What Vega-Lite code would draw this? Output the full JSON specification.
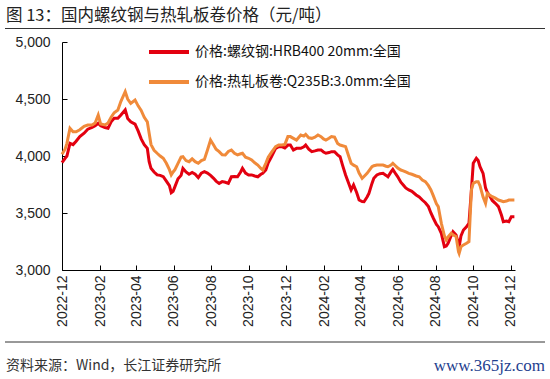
{
  "$schema": "https://vega.github.io/schema/vega-lite/v6.json",
  "width": 453,
  "height": 228,
  "autosize": "none",
  "padding": {"left": 62, "top": 42, "right": 35, "bottom": 109},
  "background": "white",
  "config": {"view": {"stroke": null}},
  "layer": [
    {
      "data": {"values": [
        {"d":"2022-12-01","r":3941,"o":4015},{"d":"2022-12-06","r":3980,"o":4060},{"d":"2022-12-09","r":4000,"o":4111},{"d":"2022-12-14","r":4111,"o":4243},{"d":"2022-12-19","r":4100,"o":4213},{"d":"2022-12-24","r":4130,"o":4213},{"d":"2022-12-30","r":4170,"o":4230},
        {"d":"2023-01-06","r":4200,"o":4260},{"d":"2023-01-12","r":4235,"o":4272},{"d":"2023-01-19","r":4250,"o":4272},{"d":"2023-01-24","r":4265,"o":4290},{"d":"2023-01-29","r":4287,"o":4360},
        {"d":"2023-02-02","r":4265,"o":4280},{"d":"2023-02-09","r":4250,"o":4272},{"d":"2023-02-14","r":4243,"o":4290},{"d":"2023-02-19","r":4300,"o":4340},{"d":"2023-02-24","r":4331,"o":4380},
        {"d":"2023-03-02","r":4331,"o":4404},{"d":"2023-03-07","r":4360,"o":4480},{"d":"2023-03-14","r":4404,"o":4564},{"d":"2023-03-18","r":4330,"o":4500},{"d":"2023-03-23","r":4300,"o":4462},{"d":"2023-03-30","r":4280,"o":4491},
        {"d":"2023-04-04","r":4220,"o":4440},{"d":"2023-04-09","r":4150,"o":4400},{"d":"2023-04-14","r":4100,"o":4340},{"d":"2023-04-19","r":4067,"o":4300},{"d":"2023-04-22","r":3950,"o":4200},{"d":"2023-04-25","r":3892,"o":4100},{"d":"2023-04-30","r":3860,"o":4050},
        {"d":"2023-05-05","r":3834,"o":4024},{"d":"2023-05-10","r":3830,"o":4000},{"d":"2023-05-15","r":3818,"o":3980},{"d":"2023-05-20","r":3780,"o":3936},{"d":"2023-05-25","r":3740,"o":3880},{"d":"2023-05-28","r":3678,"o":3834},{"d":"2023-05-31","r":3690,"o":3860},
        {"d":"2023-06-03","r":3731,"o":3880},{"d":"2023-06-08","r":3800,"o":3936},{"d":"2023-06-13","r":3830,"o":3990},{"d":"2023-06-16","r":3892,"o":3994},{"d":"2023-06-21","r":3860,"o":3960},{"d":"2023-06-26","r":3840,"o":3950},
        {"d":"2023-07-01","r":3855,"o":3975},{"d":"2023-07-06","r":3840,"o":3950},{"d":"2023-07-11","r":3810,"o":3936},{"d":"2023-07-16","r":3850,"o":3960},{"d":"2023-07-21","r":3862,"o":3970},{"d":"2023-07-26","r":3850,"o":4053},{"d":"2023-07-31","r":3830,"o":4140},
        {"d":"2023-08-05","r":3804,"o":4096},{"d":"2023-08-09","r":3780,"o":4060},{"d":"2023-08-14","r":3760,"o":4038},{"d":"2023-08-19","r":3775,"o":4010},{"d":"2023-08-24","r":3770,"o":4009},{"d":"2023-08-29","r":3760,"o":4040},
        {"d":"2023-09-03","r":3818,"o":4053},{"d":"2023-09-08","r":3820,"o":4024},{"d":"2023-09-13","r":3818,"o":4010},{"d":"2023-09-18","r":3860,"o":4020},{"d":"2023-09-21","r":3892,"o":4024},{"d":"2023-09-26","r":3850,"o":3990},
        {"d":"2023-10-01","r":3834,"o":3980},{"d":"2023-10-06","r":3834,"o":3965},{"d":"2023-10-11","r":3825,"o":3940},{"d":"2023-10-16","r":3818,"o":3921},{"d":"2023-10-21","r":3840,"o":3890},{"d":"2023-10-24","r":3848,"o":3877},{"d":"2023-10-29","r":3877,"o":3936},
        {"d":"2023-11-02","r":3940,"o":3990},{"d":"2023-11-07","r":3990,"o":4030},{"d":"2023-11-14","r":4067,"o":4082},{"d":"2023-11-19","r":4082,"o":4096},{"d":"2023-11-24","r":4082,"o":4096},{"d":"2023-11-29","r":4070,"o":4100},
        {"d":"2023-12-04","r":4096,"o":4170},{"d":"2023-12-08","r":4096,"o":4170},{"d":"2023-12-13","r":4053,"o":4155},{"d":"2023-12-18","r":4067,"o":4140},{"d":"2023-12-25","r":4067,"o":4184},{"d":"2023-12-30","r":4080,"o":4175},
        {"d":"2024-01-02","r":4096,"o":4190},{"d":"2024-01-07","r":4060,"o":4160},{"d":"2024-01-12","r":4038,"o":4155},{"d":"2024-01-17","r":4045,"o":4165},{"d":"2024-01-22","r":4053,"o":4184},{"d":"2024-01-27","r":4053,"o":4170},{"d":"2024-01-31","r":4035,"o":4150},
        {"d":"2024-02-04","r":4024,"o":4140},{"d":"2024-02-09","r":4030,"o":4155},{"d":"2024-02-13","r":4038,"o":4170},{"d":"2024-02-18","r":4038,"o":4165},{"d":"2024-02-23","r":4010,"o":4110},{"d":"2024-02-27","r":3994,"o":4096},
        {"d":"2024-03-02","r":3920,"o":4090},{"d":"2024-03-07","r":3834,"o":4082},{"d":"2024-03-12","r":3760,"o":4000},{"d":"2024-03-16","r":3702,"o":3936},{"d":"2024-03-20","r":3746,"o":3920},{"d":"2024-03-25","r":3680,"o":3906},{"d":"2024-03-29","r":3614,"o":3850},
        {"d":"2024-04-03","r":3600,"o":3804},{"d":"2024-04-06","r":3599,"o":3820},{"d":"2024-04-11","r":3640,"o":3848},{"d":"2024-04-14","r":3672,"o":3870},{"d":"2024-04-19","r":3760,"o":3906},{"d":"2024-04-22","r":3804,"o":3915},{"d":"2024-04-27","r":3834,"o":3921},
        {"d":"2024-05-02","r":3845,"o":3921},{"d":"2024-05-07","r":3848,"o":3921},{"d":"2024-05-12","r":3830,"o":3910},{"d":"2024-05-15","r":3818,"o":3906},{"d":"2024-05-20","r":3860,"o":3920},{"d":"2024-05-23","r":3883,"o":3936},{"d":"2024-05-28","r":3840,"o":3910},{"d":"2024-05-31","r":3818,"o":3895},
        {"d":"2024-06-05","r":3770,"o":3877},{"d":"2024-06-09","r":3746,"o":3870},{"d":"2024-06-13","r":3720,"o":3860},{"d":"2024-06-18","r":3702,"o":3848},{"d":"2024-06-23","r":3690,"o":3840},{"d":"2024-06-30","r":3658,"o":3825},
        {"d":"2024-07-05","r":3640,"o":3818},{"d":"2024-07-10","r":3614,"o":3790},{"d":"2024-07-15","r":3590,"o":3775},{"d":"2024-07-20","r":3556,"o":3740},{"d":"2024-07-24","r":3500,"o":3702},{"d":"2024-07-28","r":3454,"o":3650},
        {"d":"2024-08-02","r":3400,"o":3580},{"d":"2024-08-05","r":3380,"o":3556},{"d":"2024-08-10","r":3322,"o":3410},{"d":"2024-08-15","r":3204,"o":3300},{"d":"2024-08-18","r":3210,"o":3263},{"d":"2024-08-21","r":3234,"o":3290},{"d":"2024-08-26","r":3300,"o":3322},{"d":"2024-08-29","r":3336,"o":3310},
        {"d":"2024-09-03","r":3307,"o":3293},{"d":"2024-09-07","r":3230,"o":3160},{"d":"2024-09-08","r":3204,"o":3146},{"d":"2024-09-11","r":3300,"o":3204},{"d":"2024-09-15","r":3351,"o":3220},{"d":"2024-09-20","r":3380,"o":3234},{"d":"2024-09-24","r":3410,"o":3249},{"d":"2024-09-28","r":3702,"o":3702},
        {"d":"2024-10-01","r":3936,"o":3760},{"d":"2024-10-06","r":3980,"o":3775},{"d":"2024-10-09","r":3960,"o":3775},{"d":"2024-10-12","r":3906,"o":3740},{"d":"2024-10-17","r":3848,"o":3640},{"d":"2024-10-21","r":3720,"o":3585},{"d":"2024-10-24","r":3680,"o":3672},{"d":"2024-10-27","r":3658,"o":3660},
        {"d":"2024-11-01","r":3610,"o":3643},{"d":"2024-11-06","r":3585,"o":3630},{"d":"2024-11-11","r":3556,"o":3614},{"d":"2024-11-16","r":3480,"o":3605},{"d":"2024-11-19","r":3424,"o":3599},{"d":"2024-11-24","r":3430,"o":3605},{"d":"2024-11-28","r":3424,"o":3614},
        {"d":"2024-12-02","r":3468,"o":3614},{"d":"2024-12-07","r":3468,"o":3614}
      ]},
      "transform": [{"fold": ["r", "o"], "as": ["s", "v"]}],
      "mark": {"type": "line", "strokeWidth": 3, "interpolate": "linear"},
      "encoding": {
        "x": {
          "field": "d", "type": "temporal",
          "scale": {"type": "utc", "domain": [{"year": 2022, "month": 12, "date": 1, "utc": true}, {"year": 2024, "month": 12, "date": 8, "utc": true}], "nice": false},
          "axis": {
            "title": null, "grid": false, "format": "%Y-%m",
            "values": [
              {"year": 2022, "month": 12, "date": 1, "utc": true},
              {"year": 2023, "month": 2, "date": 1, "utc": true},
              {"year": 2023, "month": 4, "date": 1, "utc": true},
              {"year": 2023, "month": 6, "date": 1, "utc": true},
              {"year": 2023, "month": 8, "date": 1, "utc": true},
              {"year": 2023, "month": 10, "date": 1, "utc": true},
              {"year": 2023, "month": 12, "date": 1, "utc": true},
              {"year": 2024, "month": 2, "date": 1, "utc": true},
              {"year": 2024, "month": 4, "date": 1, "utc": true},
              {"year": 2024, "month": 6, "date": 1, "utc": true},
              {"year": 2024, "month": 8, "date": 1, "utc": true},
              {"year": 2024, "month": 10, "date": 1, "utc": true},
              {"year": 2024, "month": 12, "date": 1, "utc": true}
            ],
            "labelAngle": 270, "labelFont": "Liberation Sans", "labelFontSize": 14, "labelColor": "#222222",
            "domainColor": "#000000", "tickColor": "#000000", "tickSize": -5, "labelPadding": 10,
            "labelOverlap": false, "labelFlush": false
          }
        },
        "y": {
          "field": "v", "type": "quantitative",
          "scale": {"domain": [3000, 5000], "nice": false, "zero": false},
          "axis": {
            "title": null, "grid": false, "values": [3000, 3500, 4000, 4500, 5000], "format": ",.0f",
            "labelFont": "Liberation Sans", "labelFontSize": 14, "labelColor": "#222222",
            "domainColor": "#000000", "tickColor": "#000000", "tickSize": -5, "labelPadding": 17
          }
        },
        "color": {
          "field": "s", "type": "nominal",
          "scale": {"domain": ["r", "o"], "range": ["#E30010", "#F08A3A"]},
          "legend": {
            "title": null, "orient": "none", "legendX": 85, "legendY": -12, "direction": "vertical",
            "symbolType": "stroke", "symbolSize": 1600, "symbolStrokeWidth": 4,
            "labelFont": "Noto Sans CJK SC", "labelFontSize": 14, "labelColor": "#111111",
            "rowPadding": -2, "labelOffset": 4, "labelLimit": 0,
            "labelExpr": "datum.label == 'r' ? '价格:螺纹钢:HRB400 20mm:全国' : '价格:热轧板卷:Q235B:3.0mm:全国'"
          }
        }
      }
    },
    {
      "data": {"values": [{"t": "图 13：国内螺纹钢与热轧板卷价格（元/吨）"}]},
      "mark": {"type": "text", "align": "left", "baseline": "middle", "font": "Noto Sans CJK SC", "fontSize": 16.5, "color": "#222222"},
      "encoding": {"text": {"field": "t"}, "x": {"value": -56}, "y": {"value": -26}}
    },
    {
      "data": {"values": [{"t": "资料来源：Wind，长江证券研究所"}]},
      "mark": {"type": "text", "align": "left", "baseline": "middle", "font": "Noto Sans CJK SC", "fontSize": 14, "color": "#333333"},
      "encoding": {"text": {"field": "t"}, "x": {"value": -56}, "y": {"value": 324}}
    },
    {
      "data": {"values": [{"t": "www.365jz.com"}]},
      "mark": {"type": "text", "align": "right", "baseline": "middle", "font": "Liberation Serif", "fontSize": 17, "color": "#1F3F8F"},
      "encoding": {"text": {"field": "t"}, "x": {"value": 483}, "y": {"value": 324}}
    },
    {
      "data": {"values": [{}]},
      "mark": {"type": "rule", "color": "#333333", "strokeWidth": 1},
      "encoding": {"x": {"value": -57}, "x2": {"value": 483}, "y": {"value": -13.5}}
    },
    {
      "data": {"values": [{}]},
      "mark": {"type": "rule", "color": "#333333", "strokeWidth": 1},
      "encoding": {"x": {"value": -57}, "x2": {"value": 483}, "y": {"value": 300}}
    }
  ]
}
